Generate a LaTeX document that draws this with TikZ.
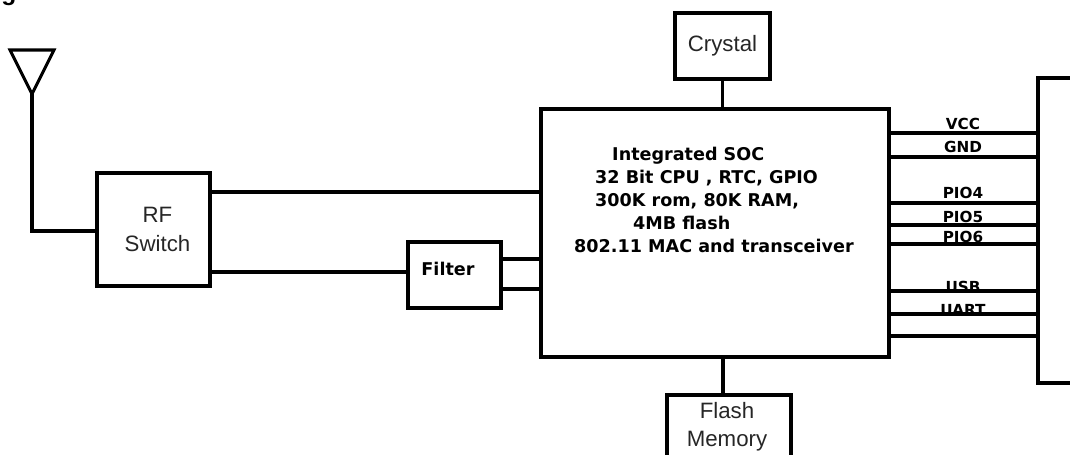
\documentclass[tikz,border=0pt]{standalone}
\usepackage{fontspec}
\usepackage{tikz}
\setmainfont{Liberation Sans}
\newfontfamily\pinfont{DejaVu Sans}[BoldFont=* Bold]
\tikzset{
  blockbox/.style={draw=black,line width=2.6pt,inner sep=0pt,align=center,text=black!85,font=\fontsize{19}{24}\selectfont},
  wire/.style={draw=black,line width=2.6pt},
  boldtext/.style={inner sep=0pt,font=\fontsize{15}{19.6}\pinfont\bfseries},
  pinlabel/.style={inner sep=0pt,anchor=base,font=\fontsize{13}{14}\pinfont\bfseries}
}
\begin{document}
\begin{tikzpicture}[x=0.03cm,y=-0.03cm]
\useasboundingbox (0,0) rectangle (1070,455);
\clip (0,0) rectangle (1070,455);
\node[anchor=base,inner sep=0pt,font=\fontsize{21}{24}\selectfont\bfseries] (G) at (9,1) {g};

\node[blockbox,minimum width=3.39cm,minimum height=3.39cm] (RF) at (153.5,229.5) {\hspace*{0.24cm}RF\\\hspace*{0.24cm}Switch};
\node[blockbox,minimum width=2.79cm,minimum height=1.98cm] (Fil) at (454.5,275) {};
\node[boldtext] (FilT) at (448,269) {Filter};
\node[blockbox,minimum width=10.44cm,minimum height=7.44cm] (SOC) at (715,233) {};
\node[blockbox,minimum width=2.85cm,minimum height=1.98cm] (Cry) at (722.5,46) {Crystal};
\node[blockbox,minimum width=3.72cm,minimum height=1.89cm] (Fla) at (729,426.5) {\hspace*{-0.12cm}Flash\\\hspace*{-0.12cm}Memory};
\node[blockbox,minimum width=2.4cm,minimum height=9.15cm] (Mod) at (1078,230.5) {};

\node[boldtext,anchor=north west,align=left] (SOCT) at (574,147) {
\hspace*{1.14cm}Integrated SOC\\
\hspace*{0.63cm}32 Bit CPU , RTC, GPIO\\
\hspace*{0.63cm}300K rom, 80K RAM,\\
\hspace*{1.77cm}4MB flash\\
802.11 MAC and transceiver};

\coordinate (AntL) at (10,50);
\coordinate (AntR) at (54,50);
\coordinate (AntT) at (32,94);
\draw[wire,line join=miter] (AntL) -- (AntR) -- (AntT) -- cycle;
\draw[wire] (AntT) |- (RF.west |- 0,231);

\path[wire] (RF.east |- 0,192) edge (SOC.west |- 0,192);
\path[wire] (RF.east |- 0,272) edge (Fil.west |- 0,272);
\path[wire] (Fil.east |- 0,259) edge (SOC.west |- 0,259);
\path[wire] (Fil.east |- 0,289) edge (SOC.west |- 0,289);
\path[wire] (Cry.south) edge (Cry.south |- SOC.north);
\path[wire] (723,0 |- SOC.south) edge (723,0 |- Fla.north);

\foreach \name/\ybase in {VCC/130,GND/153,PIO4/199,PIO5/222,PIO6/243,USB/292,UART/315}
  \node[pinlabel] (\name) at (963,\ybase) {\name};
\foreach \yline in {133,157,203,225,244,291,314,336}
  \path[wire] (SOC.east |- 0,\yline) edge (Mod.west |- 0,\yline);
\end{tikzpicture}
\end{document}
